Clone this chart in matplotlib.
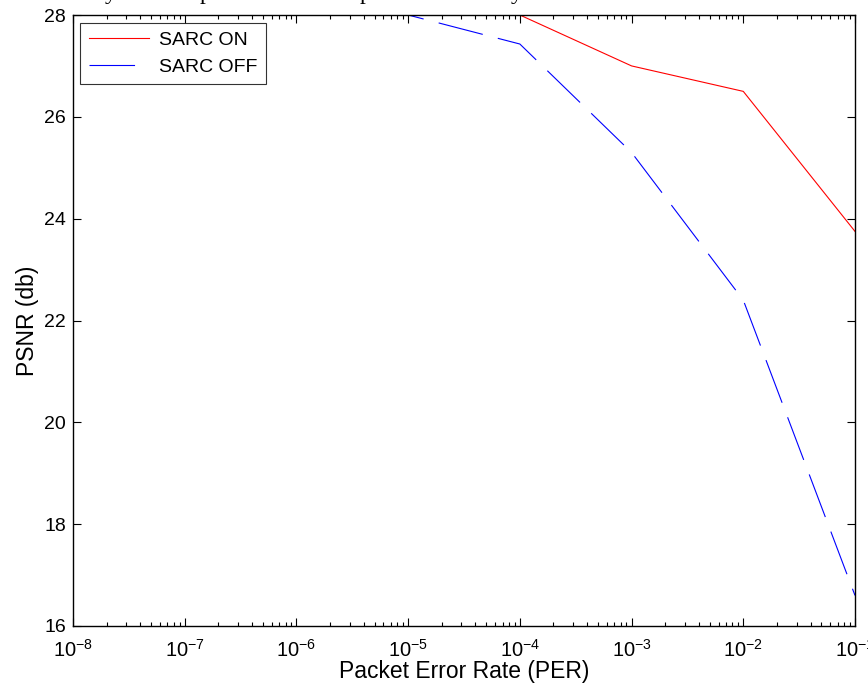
import matplotlib
matplotlib.use("Agg")
from matplotlib import pyplot as plt
from matplotlib.ticker import LogLocator, FixedLocator, NullFormatter
import numpy as np

# Donnees
per = [1e-8, 1e-7, 1e-6, 1e-5, 1e-4, 1e-3, 1e-2, 1e-1]
psnr_on = [28.0, 28.0, 28.0, 28.0, 28.0, 27.0, 26.5, 23.75]
psnr_off = [28.0, 28.0, 28.0, 28.0, 27.43, 25.3, 22.4, 16.6]
y_ticks = [16, 18, 20, 22, 24, 26, 28]
x_exps = [-8, -7, -6, -5, -4, -3, -2, -1]

# restes de la legende au-dessus (coupee)
top_letters = [("y", 111), ("p", 205), ("p", 365), ("y", 517)]

plt.rcParams['font.family'] = ['Liberation Sans', 'DejaVu Sans']

W, H = 868, 689
fig = plt.figure(figsize=(W / 100, H / 100), dpi=100)
ax = fig.add_axes([73 / W, 1 - 626 / H, (855 - 73) / W, (626 - 15) / H])

ax.plot(per, psnr_on, color='red', lw=0.8, label='SARC ON')
ax.plot(per, psnr_off, color='blue', lw=0.8, dashes=(41, 14), label='SARC OFF')

ax.set_xscale('log')
ax.set_xlim(1e-8, 1e-1)
ax.set_ylim(16, 28)

ax.xaxis.set_major_locator(FixedLocator([10.0 ** e for e in x_exps]))
ax.set_xticklabels([r'$\mathregular{10^{%d}}$' % e for e in x_exps])
ax.xaxis.set_minor_locator(LogLocator(base=10, subs=np.arange(2, 10), numticks=20))
ax.xaxis.set_minor_formatter(NullFormatter())
ax.set_yticks(y_ticks)
ax.set_yticklabels([str(v) for v in y_ticks])

ax.tick_params(which='both', direction='in', top=True, right=True,
               labelsize=14, width=0.8, color='black')
ax.tick_params(which='major', length=6, pad=5)
ax.tick_params(which='minor', length=3)
ax.tick_params(axis='x', which='major', pad=9, labelsize=14.5)
for s in ax.spines.values():
    s.set_linewidth(1.0)

ax.set_xlabel('Packet Error Rate (PER)', fontsize=16.5, labelpad=0)
ax.set_ylabel('PSNR (db)', fontsize=16.5, labelpad=4)

leg = ax.legend(loc='upper left', fontsize=14, frameon=True, fancybox=False,
                edgecolor='black', borderpad=0.45, handlelength=3.1,
                handletextpad=0.5, labelspacing=0.45,
                bbox_to_anchor=(0.009, 0.987), borderaxespad=0)
leg.get_frame().set_linewidth(0.8)

for ch, xp in top_letters:
    fig.text(xp / W, 1 + 1 / H, ch, ha='center', va='baseline',
             fontsize=17, family=['Liberation Serif', 'DejaVu Serif'])

fig.savefig('out.png', dpi=100)
